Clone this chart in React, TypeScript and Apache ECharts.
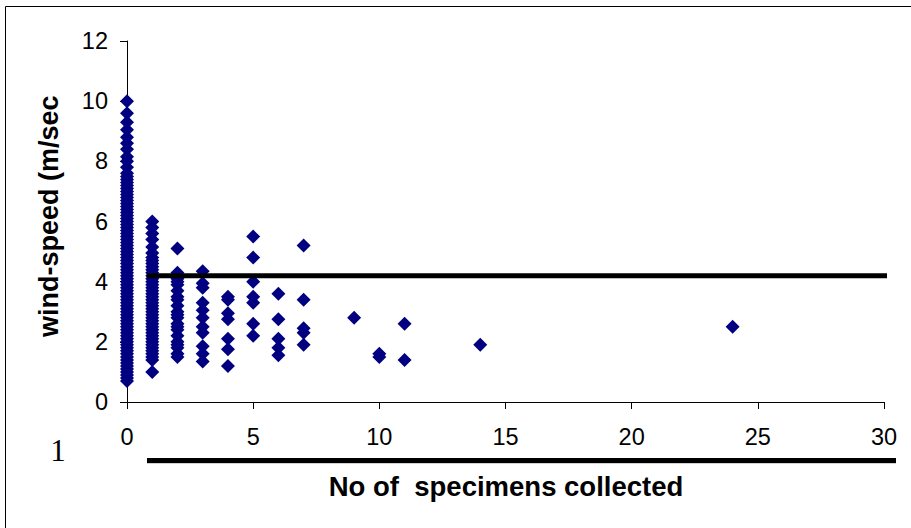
import React, { useEffect, useRef } from "react";
import * as echarts from "echarts";

// wind-speed (m/sec) readings per number of specimens collected
const windAt0 = [
  10.0, 9.6, 9.3, 9.05, 8.8, 8.6, 8.4, 8.15, 8.0, 7.8, 7.6, 7.5, 7.4, 7.3, 7.2, 7.1, 7.0,
  6.9, 6.8, 6.7, 6.6, 6.5, 6.4, 6.3, 6.2, 6.1, 6.0, 5.9, 5.8, 5.7, 5.6, 5.5, 5.4, 5.3,
  5.2, 5.1, 5.0, 4.9, 4.8, 4.7, 4.6, 4.5, 4.4, 4.3, 4.2, 4.1, 4.0, 3.9, 3.8, 3.7, 3.6,
  3.5, 3.4, 3.3, 3.2, 3.1, 3.0, 2.9, 2.8, 2.7, 2.6, 2.5, 2.4, 2.3, 2.2, 2.1, 2.0, 1.9,
  1.8, 1.7, 1.6, 1.5, 1.4, 1.3, 1.2, 1.1, 1.0, 0.9, 0.8, 0.7,
];
const windAt1 = [
  6.0, 5.8, 5.6, 5.4, 5.15, 4.95, 4.8, 4.7, 4.6, 4.5, 4.4, 4.3, 4.2, 4.1, 4.0, 3.9, 3.8,
  3.7, 3.6, 3.5, 3.4, 3.3, 3.2, 3.1, 3.0, 2.9, 2.8, 2.7, 2.6, 2.5, 2.4, 2.3, 2.2, 2.1,
  2.0, 1.9, 1.8, 1.7, 1.6, 1.5, 1.4, 1.0,
];
const windAt2 = [
  5.1, 4.3, 4.2, 4.1, 4.0, 3.9, 3.7, 3.5, 3.4, 3.2, 3.0, 2.9, 2.8, 2.6, 2.5, 2.4, 2.2,
  2.0, 1.9, 1.8, 1.6, 1.5,
];
const windAt3 = [4.35, 3.95, 3.8, 3.3, 3.05, 2.8, 2.5, 2.3, 1.85, 1.6, 1.35];
const windAt4 = [3.5, 3.4, 2.95, 2.75, 2.1, 1.75, 1.2];
const windAt5 = [5.5, 4.8, 4.0, 3.5, 3.3, 2.6, 2.2];
const windAt6 = [3.6, 2.75, 2.1, 1.8, 1.55];
const windAt7 = [5.2, 3.4, 2.45, 2.3, 1.9];
const sparseCounts = [9, 10, 10, 11, 11, 14, 24];
const sparseWind = [2.8, 1.6, 1.5, 2.6, 1.4, 1.9, 2.5];

const columns: [number, number[]][] = [
  [0, windAt0],
  [1, windAt1],
  [2, windAt2],
  [3, windAt3],
  [4, windAt4],
  [5, windAt5],
  [6, windAt6],
  [7, windAt7],
];

const thresholdWind = 4.2;
const thresholdSpan = [0.79, 30.48];

const xTitle = "No of  specimens collected";
const yTitle = "wind-speed (m/sec";
const strayLabel = "1";

const FONT = "'Liberation Sans', Arial, sans-serif";

export default function App() {
  const ref = useRef<HTMLDivElement>(null);

  useEffect(() => {
    if (!ref.current) return;
    const chart = echarts.init(ref.current, undefined, { renderer: "svg" });

    const points: number[][] = [];
    columns.forEach(([c, speeds]) => speeds.forEach((s) => points.push([c, s])));
    sparseCounts.forEach((c, i) => points.push([c, sparseWind[i]]));

    chart.setOption({
      animation: false,
      backgroundColor: "#ffffff",
      grid: { left: 127, right: 27, top: 41, bottom: 126 },
      xAxis: {
        type: "value",
        min: 0,
        max: 30,
        interval: 5,
        axisLine: { onZero: false, lineStyle: { color: "#000", width: 1 } },
        axisTick: { show: true, length: 7, lineStyle: { color: "#000" } },
        axisLabel: { color: "#000", fontSize: 23.5, fontFamily: FONT, margin: 23 },
        splitLine: { show: false },
      },
      yAxis: {
        type: "value",
        min: 0,
        max: 12,
        interval: 2,
        axisLine: { show: true, onZero: false, lineStyle: { color: "#000", width: 1 } },
        axisTick: { show: true, length: 7, lineStyle: { color: "#000" } },
        axisLabel: { color: "#000", fontSize: 23.5, fontFamily: FONT, margin: 19 },
        splitLine: { show: false },
      },
      series: [
        {
          type: "scatter",
          data: points,
          symbol: "diamond",
          symbolSize: 14,
          itemStyle: { color: "#000080", opacity: 1 },
          z: 2,
        },
        {
          type: "line",
          data: [
            [thresholdSpan[0], thresholdWind],
            [thresholdSpan[1], thresholdWind],
          ],
          symbol: "none",
          clip: false,
          lineStyle: { color: "#000", width: 5 },
          z: 3,
        },
      ],
      graphic: [
        {
          type: "rect",
          shape: { x: 5.5, y: 6.5, width: 1200, height: 1200 },
          style: { fill: "none", stroke: "#000", lineWidth: 1 },
          silent: true,
        },
        {
          type: "line",
          shape: { x1: 147, y1: 463.5, x2: 896, y2: 463.5 },
          style: { stroke: "#d0d0d0", lineWidth: 1 },
        },
        {
          type: "line",
          shape: { x1: 147, y1: 460.5, x2: 896, y2: 460.5 },
          style: { stroke: "#000", lineWidth: 5 },
        },
        {
          type: "text",
          x: 58,
          y: 450,
          style: {
            text: strayLabel,
            fontFamily: "'Liberation Serif', 'Times New Roman', serif",
            fontSize: 31,
            fill: "#000",
            textAlign: "center",
            textVerticalAlign: "middle",
          },
        },
        {
          type: "text",
          x: 506,
          y: 486,
          style: {
            text: xTitle,
            fontFamily: FONT,
            fontSize: 27.5,
            fontWeight: "bold",
            fill: "#000",
            textAlign: "center",
            textVerticalAlign: "middle",
          },
        },
        {
          type: "text",
          x: 49,
          y: 337,
          rotation: Math.PI / 2,
          style: {
            text: yTitle,
            fontFamily: FONT,
            fontSize: 27,
            fontWeight: "bold",
            fill: "#000",
            textAlign: "left",
            textVerticalAlign: "middle",
          },
        },
      ],
    });

    return () => chart.dispose();
  }, []);

  return (
    <div
      ref={ref}
      style={{ position: "fixed", left: 0, top: 0, width: 911, height: 528, background: "#fff" }}
    />
  );
}
